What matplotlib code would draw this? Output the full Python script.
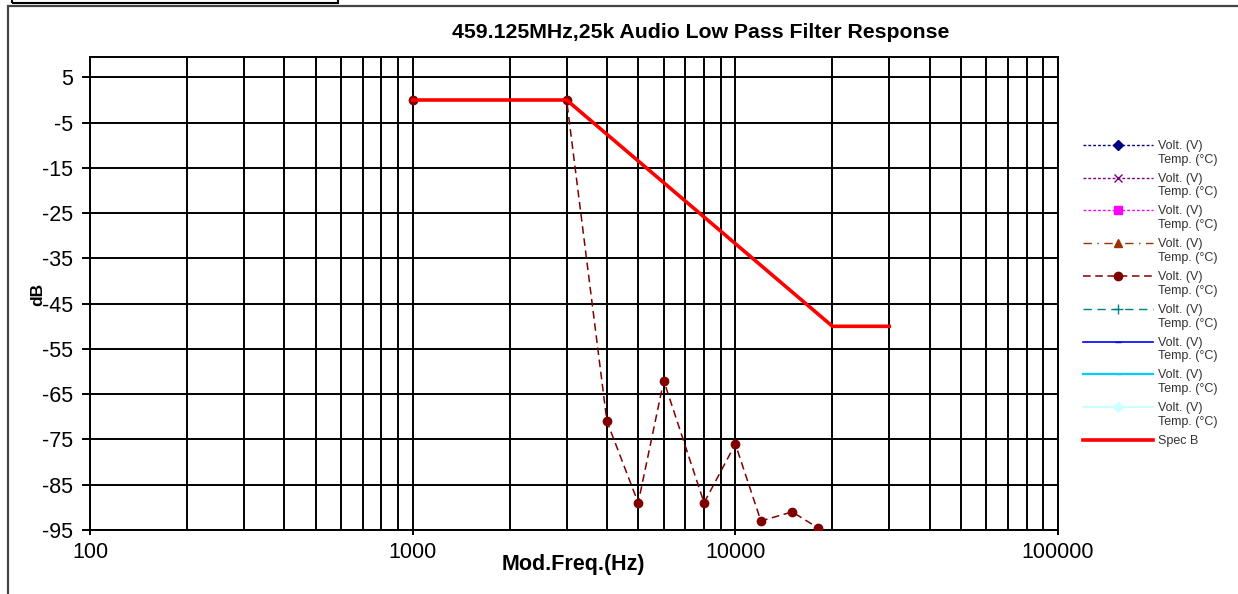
import matplotlib.pyplot as plt
from matplotlib.patches import Rectangle
from matplotlib.ticker import NullFormatter, LogLocator
from matplotlib.legend_handler import HandlerLine2D

# measured response (dark red dashed series)
freq = [1000, 3000, 4000, 5000, 6000, 8000, 10000, 12000, 15000, 18000]
resp = [0, 0, -71, -89, -62, -89, -76, -93, -91, -94.5]

# spec limit
spec_f = [1000, 3000, 20000, 30000]
spec_db = [0, 0, -50, -50]

yticks = [5, -5, -15, -25, -35, -45, -55, -65, -75, -85, -95]
xticks = [100, 1000, 10000, 100000]

plt.rcParams['font.family'] = ['Liberation Sans', 'DejaVu Sans']
plt.rcParams['axes.unicode_minus'] = False


class TopLineHandler(HandlerLine2D):
    # put the legend line next to the first text line instead of the middle
    def create_artists(self, legend, orig_handle, xdescent, ydescent, width, height,
                       fontsize, trans):
        return super().create_artists(legend, orig_handle, xdescent, ydescent - 11.5,
                                      width, height, fontsize, trans)


fig = plt.figure(figsize=(12.38, 5.94), dpi=100)
ax = fig.add_axes([90/1238, 1-530/594, (1058-90)/1238, (530-57)/594])

# outer chart frame and the box peeking in at the top
fig.patches.append(Rectangle((8/1238, -0.01), 1.0, 1-6/594+0.01, transform=fig.transFigure,
                             fill=False, ec='#444444', lw=1.6))
fig.patches.append(Rectangle((12/1238, 1-3/594), (338-12)/1238, 0.05, transform=fig.transFigure,
                             fill=False, ec='black', lw=1.5, clip_on=False))

lab = 'Volt. (V)\nTemp. (°C)'
lines = []
lines += ax.plot([], [], ls=(0, (2, 1.5)), color='#000080', marker='D', ms=5, lw=1, label=lab)
lines += ax.plot([], [], ls=(0, (2, 1.5)), color='#800080', marker='x', ms=6, lw=1, label=lab)
lines += ax.plot([], [], ls=(0, (2, 1.5)), color='#FF00FF', marker='s', ms=6, lw=1, label=lab)
lines += ax.plot([], [], ls=(0, (6, 4, 1, 4)), color='#993300', marker='^', ms=6, lw=1, label=lab)
lines += ax.plot(freq, resp, ls=(0, (5, 3)), color='#800000', marker='o', ms=6, lw=1.1,
                 label=lab, zorder=3)
lines += ax.plot([], [], ls=(0, (6, 4)), color='#008080', marker='+', ms=7, lw=1, label=lab)
lines += ax.plot([], [], ls='-', color='#0000FF', marker='_', ms=5, lw=1.2, label=lab)
lines += ax.plot([], [], ls='-', color='#00CCFF', marker='_', ms=5, lw=1.6, label=lab)
lines += ax.plot([], [], ls='-', color='#CCFFFF', marker='D', ms=5, lw=1.6, label=lab)
ax.plot(spec_f, spec_db, color='#FF0000', lw=2.6, label='Spec B', zorder=4)

ax.set_xscale('log')
ax.set_xlim(100, 100000)
ax.set_ylim(-95, 9.5)
ax.set_xticks(xticks)
ax.set_xticklabels([str(t) for t in xticks])
ax.xaxis.set_minor_locator(LogLocator(base=10, subs=range(2, 10)))
ax.xaxis.set_minor_formatter(NullFormatter())
ax.set_yticks(yticks)
ax.grid(True, which='both', color='black', lw=1.4)
ax.tick_params(axis='both', which='major', labelsize=15.5, width=1.4, color='black')
ax.tick_params(axis='y', length=6, pad=6)
ax.tick_params(axis='x', length=3.6, pad=5)
ax.tick_params(axis='x', which='minor', length=0)
for s in ax.spines.values():
    s.set_linewidth(1.4)

fig.text(701/1238, 1-32/594, '459.125MHz,25k Audio Low Pass Filter Response', fontsize=15.3,
         fontweight='bold', ha='center', va='center')
ax.set_xlabel('Mod.Freq.(Hz)', fontsize=15.5, fontweight='bold')
ax.xaxis.set_label_coords(0.4995, -0.072)
ax.xaxis.label.set_va('center')
ax.set_ylabel('dB', fontsize=12.5, fontweight='bold')
ax.yaxis.set_label_coords(-0.0537, 0.499)
ax.yaxis.label.set_va('center')

hmap = {ln: TopLineHandler() for ln in lines}
leg = ax.legend(loc='upper left', bbox_to_anchor=(1.026, 0.825), fontsize=9, frameon=False,
                handlelength=5.6, labelspacing=0.56, handletextpad=0.4, borderaxespad=0,
                borderpad=0, handler_map=hmap)
for t in leg.get_texts():
    t.set_color('#333333')

fig.savefig('out.png', dpi=100)
